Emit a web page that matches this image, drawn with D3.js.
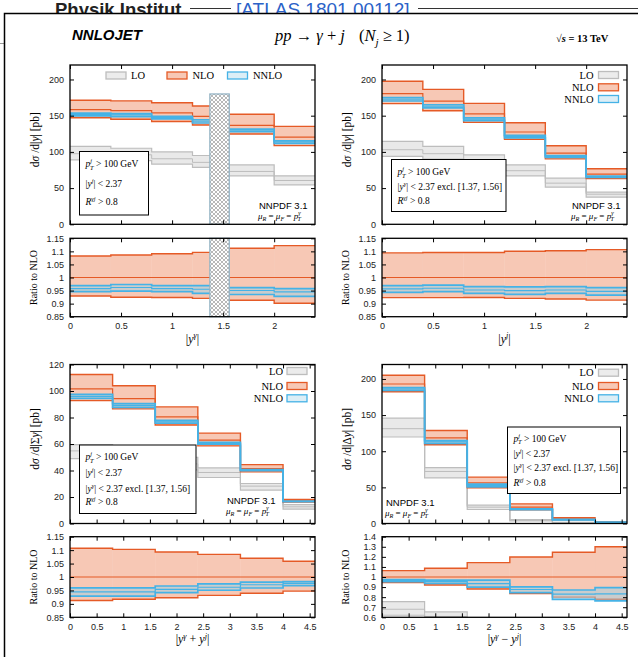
<!DOCTYPE html>
<html>
<head>
<meta charset="utf-8">
<script src="https://cdn.jsdelivr.net/npm/d3@7"></script>
<style>
  body { margin: 0; background: #fff; }
  svg { display: block; }
</style>
</head>
<body>
<svg id="fig" width="638" height="657"></svg>
<script>
// ---------- data: |y^gamma| ----------
const binLoYg = [0, 0.4, 0.8, 1.2, 1.56, 2.0];
const binHiYg = [0.4, 0.8, 1.2, 1.37, 2.0, 2.4];
const nloYg    = [158.4, 157.0, 153.8, 149.0, 136.7, 120.5];
const nloUpYg  = [171.4, 170.5, 167.8, 163.3, 152.0, 135.2];
const nloDnYg  = [147.2, 145.1, 142.0, 137.1, 124.8, 108.6];
const nnloYg   = [151.7, 151.0, 147.3, 142.3, 129.9, 113.9];
const nnloUpYg = [153.5, 152.8, 149.0, 144.4, 131.4, 115.4];
const nnloDnYg = [149.8, 148.8, 145.5, 139.9, 127.8, 111.8];
const loYg     = [97.5, 96.0, 90.5, 85.5, 73.0, 60.5];
const loUpYg   = [107.5, 105.0, 100.0, 95.0, 82.0, 67.0];
const loDnYg   = [89.0, 88.0, 83.0, 78.5, 67.0, 54.5];
const crackEdges = [1.37, 1.56];
const crackTop = 180;

// ---------- data: |y^j| ----------
const binLoYj = [0, 0.4, 0.8, 1.2, 1.6, 2.0];
const binHiYj = [0.4, 0.8, 1.2, 1.6, 2.0, 2.4];
const nloYj    = [180.6, 170.0, 152.4, 127.5, 98.4, 69.3];
const nloUpYj  = [197.6, 186.3, 167.0, 140.3, 108.5, 76.7];
const nloDnYj  = [166.7, 156.9, 140.7, 117.3, 90.3, 63.3];
const nnloYj   = [172.7, 163.0, 145.1, 121.1, 93.7, 65.6];
const nnloUpYj = [175.0, 165.1, 147.1, 122.9, 95.0, 66.6];
const nnloDnYj = [170.3, 160.8, 143.1, 119.3, 92.4, 64.6];
const loYj     = [103.0, 97.5, 86.8, 74.0, 56.8, 41.6];
const loUpYj   = [114.5, 107.6, 96.0, 82.0, 63.7, 44.3];
const loDnYj   = [93.8, 90.0, 80.0, 67.0, 51.3, 37.4];

// ---------- data: |y^gamma + y^j| ----------
const binLoSum = [0, 0.8, 1.6, 2.4, 3.2, 4.0];
const binHiSum = [0.8, 1.6, 2.4, 3.2, 4.0, 4.6];
const nloSum    = [101.6, 94.3, 80.5, 62.9, 41.5, 17.1];
const nloUpSum  = [112.5, 104.0, 88.0, 68.2, 44.4, 18.1];
const nloDnSum  = [92.7, 86.5, 74.3, 58.6, 39.0, 16.2];
const nnloSum   = [96.0, 89.1, 76.8, 60.5, 40.3, 16.7];
const nnloUpSum = [97.5, 90.5, 77.8, 61.3, 40.7, 16.8];
const nnloDnSum = [94.4, 87.6, 75.8, 59.8, 39.8, 16.55];
const loSum     = [54.8, 51.0, 45.0, 38.5, 28.2, 12.6];
const loUpSum   = [59.6, 56.0, 50.0, 42.0, 30.2, 14.3];
const loDnSum   = [49.0, 46.0, 40.5, 34.7, 25.2, 10.8];

// ---------- data: |y^gamma - y^j| ----------
const binLoDif = [0, 0.8, 1.6, 2.4, 3.2, 4.0];
const binHiDif = [0.8, 1.6, 2.4, 3.2, 4.0, 4.6];
const nloDif    = [193.0, 118.4, 56.2, 22.6, 6.5, 1.9];
const nloUpDif  = [205.2, 128.6, 64.2, 27.1, 8.1, 2.47];
const nloDnDif  = [182.2, 109.0, 49.5, 18.9, 5.2, 1.48];
const nnloDif   = [186.2, 113.1, 52.5, 19.8, 5.4, 1.58];
const nnloUpDif = [188.2, 114.8, 54.5, 20.4, 5.66, 1.70];
const nnloDnDif = [184.3, 110.9, 50.6, 19.1, 5.06, 1.45];
const loDif     = [131.2, 72.0, 22.6, 4.6, 1.2, 0.3];
const loUpDif   = [145.7, 77.3, 25.3, 5.5, 1.5, 0.4];
const loDnDif   = [119.7, 63.0, 19.4, 3.7, 0.9, 0.2];

// ---------- axis ticks ----------
const xTicksNarrow = [0, 0.5, 1, 1.5, 2];
const xTicksWide = [0, 0.5, 1, 1.5, 2, 2.5, 3, 3.5, 4, 4.5];
const yTicks200 = [0, 50, 100, 150, 200];
const yTicks120 = [0, 20, 40, 60, 80, 100, 120];
const ratioTicksA = [0.85, 0.9, 0.95, 1, 1.05, 1.1, 1.15];
const ratioTicksB = [0.6, 0.7, 0.8, 0.9, 1, 1.1, 1.2, 1.3, 1.4];

// ---------- styles ----------
const SERIF = "'Liberation Serif','Times New Roman',serif";
const SANS = "'Liberation Sans',Arial,sans-serif";
const COL = {
  nlo: "#e55a26", nloFill: "#e8602c",
  nnlo: "#45b2e6", nnloFill: "#9ccfe6",
  lo: "#bdbdbd", loFill: "#d4d4d4"
};
const fmt = d3.format("~g");

const svg = d3.select("#fig");
svg.append("rect").attr("width", 638).attr("height", 657).attr("fill", "#fff");

// crosshatch for the excluded photon-rapidity crack
const defs = svg.append("defs");
const pat = defs.append("pattern").attr("id", "xhatch").attr("patternUnits", "userSpaceOnUse")
  .attr("width", 4).attr("height", 4);
pat.append("rect").attr("width", 4).attr("height", 4).attr("fill", "#fff");
pat.append("path").attr("d", "M0,0L4,4M4,0L0,4M-1,3L1,5M3,-1L5,1M-1,1L1,-1M3,5L5,3")
  .attr("stroke", "#9a9a9a").attr("stroke-width", 0.7);

// header strip behind the frame
const header = svg.append("g");
header.append("text").attr("x", 55).attr("y", 16).attr("font-family", SANS)
  .attr("font-weight", "bold").attr("font-size", 18.5).attr("fill", "#222").text("Physik Institut");
header.append("line").attr("x1", 190).attr("x2", 231).attr("y1", 8.5).attr("y2", 8.5)
  .attr("stroke", "#333").attr("stroke-width", 1);
header.append("text").attr("x", 236).attr("y", 16).attr("font-family", SANS)
  .attr("font-size", 19).attr("fill", "#2b62c8").text("[ATLAS,1801.00112]");
header.append("line").attr("x1", 418).attr("x2", 638).attr("y1", 8.5).attr("y2", 8.5)
  .attr("stroke", "#333").attr("stroke-width", 1);
svg.append("line").attr("x1", 0).attr("x2", 4).attr("y1", 43.5).attr("y2", 43.5)
  .attr("stroke", "#999").attr("stroke-width", 1);
svg.append("rect").attr("x", 4.5).attr("y", 13.5).attr("width", 700).attr("height", 700)
  .attr("fill", "#fff").attr("stroke", "#000").attr("stroke-width", 1.5);

// rich text: parts are [text, flags, dx]; flags: i=italic, ^=superscript, _=subscript, b=bold
function rich(g, x, y, parts, o) {
  const size = o.size;
  const t = g.append("text").attr("x", x).attr("y", y)
    .attr("font-family", o.family || SERIF).attr("font-size", size)
    .attr("text-anchor", o.anchor || "start").attr("fill", "#000");
  if (o.weight) t.attr("font-weight", o.weight);
  if (o.rotate) t.attr("transform", `rotate(${o.rotate},${x},${y})`);
  let shift = 0;
  parts.forEach(p => {
    const [txt, fl = "", dx = 0] = p;
    const s = fl.includes("^") ? -size * 0.38 : fl.includes("_") ? size * 0.28 : 0;
    const ts = t.append("tspan").text(txt);
    if (s !== shift) ts.attr("dy", s - shift);
    shift = s;
    if (dx) ts.attr("dx", dx);
    if (fl.includes("i")) ts.attr("font-style", "italic");
    if (fl.includes("^") || fl.includes("_")) ts.attr("font-size", size * 0.68);
    if (fl.includes("b")) ts.attr("font-weight", "bold");
  });
  return t;
}

// figure title row
rich(svg, 72, 40, [["NNLOJET", "ib"]], { size: 15, family: SANS });
rich(svg, 275, 41, [["pp", "i"], [" → ", ""], ["γ", "i"], [" + ", ""], ["j", "i"], ["(", "", 14], ["N", "i"], ["j", "i_"], [" ≥ 1)", ""]],
  { size: 16.5 });
rich(svg, 556, 42, [["√", "b"], ["s", "ib"], [" = 13 TeV", "b"]], { size: 10.5 });

let clipId = 0;
function drawPanel(P) {
  const g = svg.append("g");
  const x = d3.scaleLinear().domain(P.xDomain).range([P.left, P.right]);
  const y = d3.scaleLinear().domain([0, P.yMax]).range([P.mainBottom, P.mainTop]);
  const r = d3.scaleLinear().domain(P.rDomain).range([P.ratioBottom, P.ratioTop]);

  function clip(top, bottom) {
    const id = "clip" + (clipId++);
    defs.append("clipPath").attr("id", id).append("rect")
      .attr("x", P.left).attr("y", top).attr("width", P.right - P.left).attr("height", bottom - top);
    return g.append("g").attr("clip-path", `url(#${id})`);
  }

  function stepPath(vals, sc) {
    const p = d3.path();
    P.lo.forEach((l, i) => {
      const v = sc(vals[i]);
      if (i === 0 || Math.abs(l - P.hi[i - 1]) > 1e-9) p.moveTo(x(l), v); else p.lineTo(x(l), v);
      p.lineTo(x(P.hi[i]), v);
    });
    return p.toString();
  }

  function band(layer, sc, S, key, lineW, centralW, fillOp) {
    layer.append("g").selectAll("rect").data(P.lo.map((d, i) => i)).join("rect")
      .attr("x", i => x(P.lo[i])).attr("width", i => x(P.hi[i]) - x(P.lo[i]))
      .attr("y", i => sc(S.up[i])).attr("height", i => sc(S.dn[i]) - sc(S.up[i]))
      .attr("fill", COL[key + "Fill"]).attr("fill-opacity", fillOp);
    [[S.up, lineW], [S.dn, lineW], [S.mid, centralW]].forEach(([vals, w]) => {
      layer.append("path").attr("d", stepPath(vals, sc)).attr("fill", "none")
        .attr("stroke", COL[key]).attr("stroke-width", w);
    });
  }

  const ratioOf = arr => arr.map((v, i) => v / P.nlo.mid[i]);
  const ratioSet = S => ({ up: ratioOf(S.up), dn: ratioOf(S.dn), mid: ratioOf(S.mid) });

  // main panel
  const main = clip(P.mainTop, P.mainBottom);
  band(main, y, P.loS, "lo", 1.2, 1.0, 0.5);
  band(main, y, P.nlo, "nlo", 1.4, 1.2, 0.35);
  band(main, y, P.nnlo, "nnlo", 1.7, 1.2, 0.5);

  // ratio panel
  const rat = clip(P.ratioTop, P.ratioBottom);
  band(rat, r, ratioSet(P.loS), "lo", 1.2, 1.0, 0.5);
  band(rat, r, ratioSet(P.nlo), "nlo", 1.4, 1.2, 0.35);
  band(rat, r, ratioSet(P.nnlo), "nnlo", 1.7, 1.2, 0.5);

  if (P.crack) {
    [[y(0), y(P.crackTop)], [P.ratioBottom, P.ratioTop]].forEach(([b, t]) => {
      g.append("rect").attr("x", x(P.crack[0])).attr("width", x(P.crack[1]) - x(P.crack[0]))
        .attr("y", t).attr("height", b - t)
        .attr("fill", "url(#xhatch)").attr("stroke", "#8fb0c2").attr("stroke-width", 1.2);
    });
  }

  // axes
  function frame(sc, top, bottom, ticks, xLabels) {
    const ax = g.append("g").attr("font-family", SERIF);
    ax.append("g").attr("transform", `translate(${P.left},0)`)
      .call(d3.axisLeft(sc).tickValues(ticks).tickSize(-4).tickPadding(6).tickFormat(fmt));
    ax.append("g").attr("transform", `translate(${P.right},0)`)
      .call(d3.axisRight(sc).tickValues(ticks).tickSize(-4).tickFormat(""));
    ax.append("g").attr("transform", `translate(0,${top})`)
      .call(d3.axisTop(x).tickValues(P.xTicks).tickSize(-4).tickFormat(""));
    ax.append("g").attr("transform", `translate(0,${bottom})`)
      .call(d3.axisBottom(x).tickValues(P.xTicks).tickSize(-4).tickPadding(6)
        .tickFormat(xLabels ? fmt : ""));
    ax.selectAll(".domain").remove();
    ax.selectAll(".tick line").attr("stroke", "#000").attr("stroke-width", 1);
    ax.selectAll("text").attr("font-size", 9).attr("fill", "#222");
    ax.append("rect").attr("x", P.left).attr("y", top).attr("width", P.right - P.left)
      .attr("height", bottom - top).attr("fill", "none").attr("stroke", "#000").attr("stroke-width", 1.3);
  }
  frame(y, P.mainTop, P.mainBottom, P.yTicks, false);
  frame(r, P.ratioTop, P.ratioBottom, P.rTicks, true);

  // axis titles
  rich(g, P.left - 31, (P.mainTop + P.mainBottom) / 2 - 5, P.yTitle, { size: 11.5, anchor: "middle", rotate: -90 });
  rich(g, P.left - 33, (P.ratioTop + P.ratioBottom) / 2, [["Ratio to NLO", ""]], { size: 10, anchor: "middle", rotate: -90 });
  rich(g, (P.left + P.right) / 2, P.ratioBottom + 26, P.xTitle, { size: 12, anchor: "middle" });

  // legend
  const legItems = [["LO", "lo"], ["NLO", "nlo"], ["NNLO", "nnlo"]];
  legItems.forEach(([name, key], i) => {
    const L = P.legend[i];
    g.append("rect").attr("x", L.sx).attr("y", L.y - 3.5).attr("width", 20).attr("height", 7)
      .attr("fill", COL[key + "Fill"]).attr("fill-opacity", key === "lo" ? 0.45 : 0.35)
      .attr("stroke", COL[key]).attr("stroke-width", 1.3);
    rich(g, L.tx, L.y + 3.5, [[name, ""]], { size: 10.5, anchor: L.anchor });
  });

  // cuts box
  g.append("rect").attr("x", P.box[0]).attr("y", P.box[1]).attr("width", P.box[2]).attr("height", P.box[3])
    .attr("fill", "#fff").attr("stroke", "#000").attr("stroke-width", 1);
  P.cuts.forEach((c, i) => rich(g, P.box[0] + 6, P.cutY[i], c, { size: 9.5 }));

  // PDF / scale note
  rich(g, P.pdfX, P.pdfY, [["NNPDF 3.1", ""]], { size: 9.5, family: SANS });
  rich(g, P.pdfX - 1, P.pdfY + 9.5, [["μ", "i"], ["R", "i_"], [" = ", ""], ["μ", "i"], ["F", "i_"], [" = ", ""],
    ["p", "i"], ["γ", "i^"], ["T", "i_", -3]], { size: 9 });
}

const cutPt = [["p", "i"], ["j", "i^"], ["T", "i_", -2], [" > 100 GeV", ""]];
const cutYj = [["|", ""], ["y", "i"], ["j", "i^"], ["| < 2.37", ""]];
const cutYgExcl = [["|", ""], ["y", "i"], ["γ", "i^"], ["| < 2.37 excl. [1.37, 1.56]", ""]];
const cutR = [["R", "i"], ["γj", "i^"], [" > 0.8", ""]];
const yTitle = sym => [["d", ""], ["σ", "i"], [" /d|", ""], ...sym, ["| [pb]", ""]];

const colL = { left: 70, right: 315 };
const colR = { left: 382, right: 627 };
const rowT = { mainTop: 65, mainBottom: 224.3, ratioTop: 238.3, ratioBottom: 316.7 };
const rowB = { mainTop: 364.5, mainBottom: 523.5, ratioTop: 536.7, ratioBottom: 617.3 };

drawPanel({
  ...colL, ...rowT, xDomain: [0, 2.4], yMax: 220, rDomain: [0.85, 1.15],
  xTicks: xTicksNarrow, yTicks: yTicks200, rTicks: ratioTicksA,
  lo: binLoYg, hi: binHiYg,
  nlo: { mid: nloYg, up: nloUpYg, dn: nloDnYg },
  nnlo: { mid: nnloYg, up: nnloUpYg, dn: nnloDnYg },
  loS: { mid: loYg, up: loUpYg, dn: loDnYg },
  crack: crackEdges, crackTop: crackTop,
  yTitle: yTitle([["y", "i"]]),
  xTitle: [["|", ""], ["y", "i"], ["γ", "i^"], ["|", ""]],
  legend: [{ sx: 106, tx: 131, y: 75.5, anchor: "start" }, { sx: 167, tx: 192.5, y: 75.5, anchor: "start" },
           { sx: 227.5, tx: 253, y: 75.5, anchor: "start" }],
  box: [79.5, 151.5, 69, 63.5], cuts: [cutPt, cutYj, cutR], cutY: [167, 187, 205],
  pdfX: 259, pdfY: 209
});

drawPanel({
  ...colR, ...rowT, xDomain: [0, 2.4], yMax: 220, rDomain: [0.85, 1.15],
  xTicks: xTicksNarrow, yTicks: yTicks200, rTicks: ratioTicksA,
  lo: binLoYj, hi: binHiYj,
  nlo: { mid: nloYj, up: nloUpYj, dn: nloDnYj },
  nnlo: { mid: nnloYj, up: nnloUpYj, dn: nnloDnYj },
  loS: { mid: loYj, up: loUpYj, dn: loDnYj },
  yTitle: yTitle([["y", "i"]]),
  xTitle: [["|", ""], ["y", "i"], ["j", "i^"], ["|", ""]],
  legend: [{ sx: 598.5, tx: 593.5, y: 75, anchor: "end" }, { sx: 598.5, tx: 593.5, y: 87.3, anchor: "end" },
           { sx: 598.5, tx: 593.5, y: 99, anchor: "end" }],
  box: [391.5, 159.5, 114.5, 52], cuts: [cutPt, cutYgExcl, cutR], cutY: [175, 190, 204],
  pdfX: 572, pdfY: 209
});

drawPanel({
  ...colL, ...rowB, xDomain: [0, 4.6], yMax: 120, rDomain: [0.85, 1.15],
  xTicks: xTicksWide, yTicks: yTicks120, rTicks: ratioTicksA,
  lo: binLoSum, hi: binHiSum,
  nlo: { mid: nloSum, up: nloUpSum, dn: nloDnSum },
  nnlo: { mid: nnloSum, up: nnloUpSum, dn: nnloDnSum },
  loS: { mid: loSum, up: loUpSum, dn: loDnSum },
  yTitle: yTitle([["Σ", ""], ["y", "i"]]),
  xTitle: [["|", ""], ["y", "i"], ["γ", "i^"], [" + ", ""], ["y", "i"], ["j", "i^"], ["|", ""]],
  legend: [{ sx: 287, tx: 283, y: 371, anchor: "end" }, { sx: 287, tx: 283, y: 386, anchor: "end" },
           { sx: 287, tx: 283, y: 398.3, anchor: "end" }],
  box: [79.5, 445, 116.5, 68.5], cuts: [cutPt, cutYj, cutYgExcl, cutR], cutY: [460, 476, 492, 505],
  pdfX: 227, pdfY: 504
});

drawPanel({
  ...colR, ...rowB, xDomain: [0, 4.6], yMax: 220, rDomain: [0.6, 1.4],
  xTicks: xTicksWide, yTicks: yTicks200, rTicks: ratioTicksB,
  lo: binLoDif, hi: binHiDif,
  nlo: { mid: nloDif, up: nloUpDif, dn: nloDnDif },
  nnlo: { mid: nnloDif, up: nnloUpDif, dn: nnloDnDif },
  loS: { mid: loDif, up: loUpDif, dn: loDnDif },
  yTitle: yTitle([["Δ", ""], ["y", "i"]]),
  xTitle: [["|", ""], ["y", "i"], ["γ", "i^"], [" − ", ""], ["y", "i"], ["j", "i^"], ["|", ""]],
  legend: [{ sx: 598.5, tx: 593.5, y: 372.7, anchor: "end" }, { sx: 598.5, tx: 593.5, y: 386, anchor: "end" },
           { sx: 598.5, tx: 593.5, y: 398.3, anchor: "end" }],
  box: [507.5, 427, 113, 66.5], cuts: [cutPt, cutYj, cutYgExcl, cutR], cutY: [441.5, 456.5, 471, 486],
  pdfX: 386, pdfY: 506
});
</script>
</body>
</html>
